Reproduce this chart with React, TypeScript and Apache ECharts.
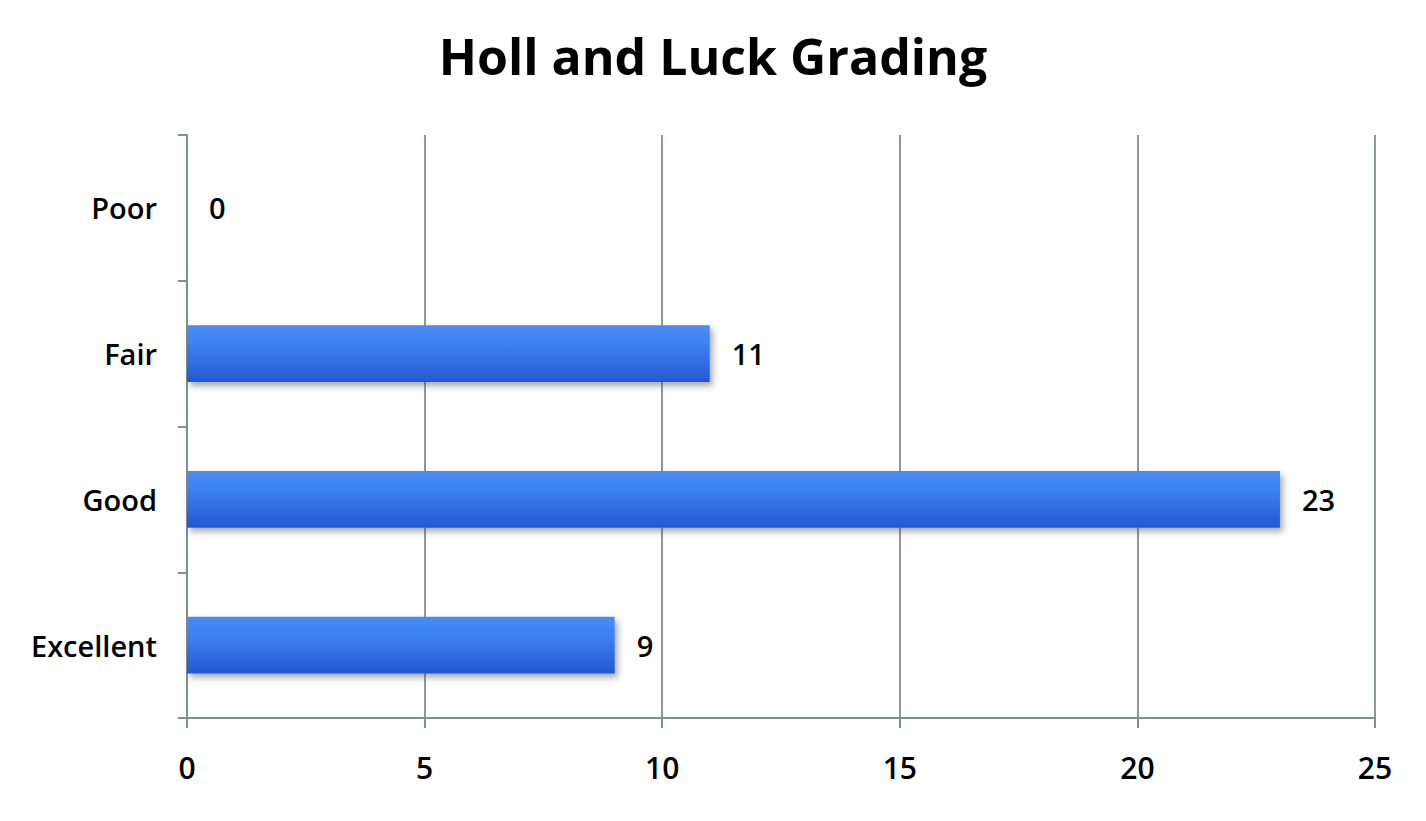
import React, { useEffect, useRef } from "react";
import * as echarts from "echarts";

const categories = ["Excellent", "Good", "Fair", "Poor"];
const values = [9, 23, 11, 0];
const xTicks = [0, 5, 10, 15, 20, 25];
const titleText = "Holl and Luck Grading";

export default function App() {
  const ref = useRef<HTMLDivElement>(null);
  useEffect(() => {
    if (!ref.current) return;
    const chart = echarts.init(ref.current, undefined, { renderer: "svg" });
    chart.setOption({
      animation: false,
      backgroundColor: "#ffffff",
      title: {
        text: titleText,
        left: "center",
        top: 18,
        textStyle: {
          fontFamily: "Open Sans",
          fontWeight: "bold",
          fontSize: 50,
          color: "#000",
        },
      },
      grid: { left: 179, right: 43, top: 127, bottom: 95, containLabel: false },
      xAxis: {
        type: "value",
        min: xTicks[0],
        max: xTicks[xTicks.length - 1],
        interval: 5,
        axisLine: { show: true, lineStyle: { color: "#7f9090", width: 2 } },
        axisTick: { show: true, length: 10, lineStyle: { color: "#7f9090", width: 2 } },
        splitLine: { show: true, lineStyle: { color: "#8a9a9a", width: 2 } },
        axisLabel: {
          fontFamily: "Open Sans",
          fontSize: 30,
          fontWeight: 600,
          color: "#000",
          margin: 34,
        },
      },
      yAxis: {
        type: "category",
        data: categories,
        axisLine: { show: true, lineStyle: { color: "#7f9090", width: 2 } },
        axisTick: { show: true, length: 9, lineStyle: { color: "#7f9090", width: 2 } },
        axisLabel: {
          fontFamily: "Open Sans",
          fontSize: 29,
          fontWeight: 600,
          color: "#000",
          margin: 30,
        },
      },
      series: [
        {
          type: "bar",
          data: values,
          barWidth: "39%",
          itemStyle: {
            color: new echarts.graphic.LinearGradient(0, 0, 0, 1, [
              { offset: 0, color: "#4a8cf5" },
              { offset: 0.35, color: "#3d80f2" },
              { offset: 1, color: "#2557d2" },
            ]),
            shadowColor: "rgba(60,70,70,0.45)",
            shadowBlur: 6,
            shadowOffsetX: 3,
            shadowOffsetY: 4,
          },
          label: {
            show: true,
            position: "right",
            distance: 22,
            fontFamily: "Open Sans",
            fontSize: 29,
            fontWeight: 600,
            color: "#000",
          },
        },
      ],
    });
    return () => chart.dispose();
  }, []);
  return <div ref={ref} style={{ width: 1410, height: 805 }} />;
}
